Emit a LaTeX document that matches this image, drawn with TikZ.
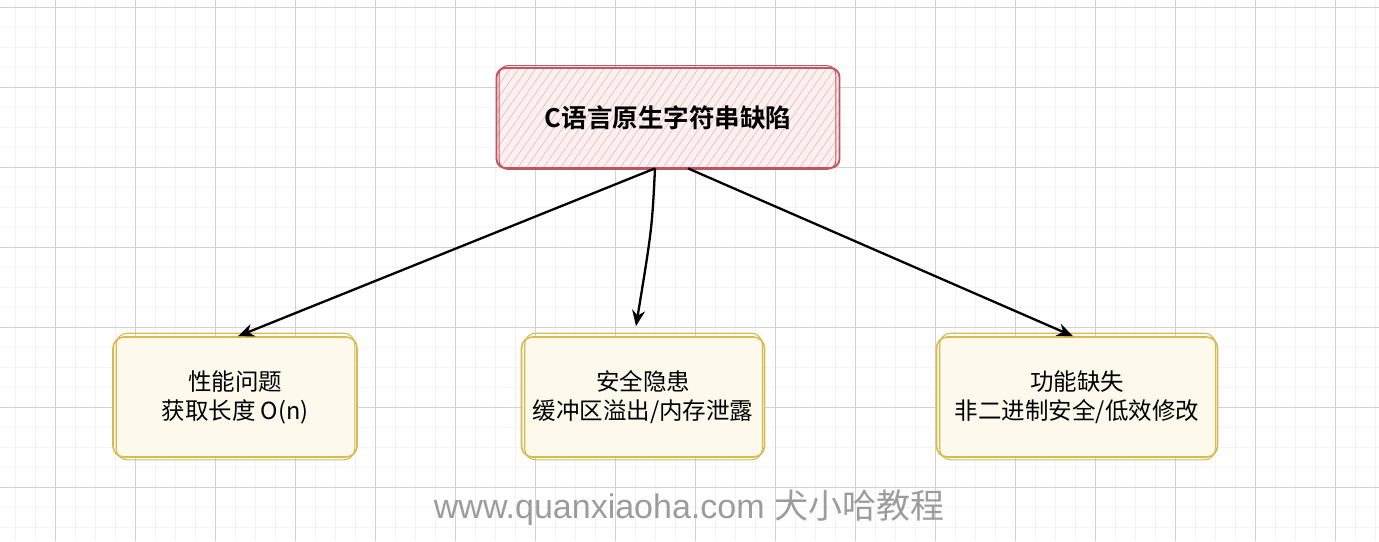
\documentclass[tikz,border=0pt]{standalone}
\usepackage{fontspec}
\setmainfont{Noto Sans CJK SC}
\newfontfamily\wmlatin{Liberation Sans}
\newfontfamily\cjkbold{Noto Sans CJK SC Bold}
\usetikzlibrary{arrows.meta,patterns.meta,calc}
\definecolor{gridmajor}{HTML}{D2D2D2}
\definecolor{gridminor}{HTML}{F3F3F3}
\definecolor{topstroke}{HTML}{C0555F}
\definecolor{topfill}{HTML}{FCF0F0}
\definecolor{tophatch}{HTML}{E9C2C2}
\definecolor{boxstroke}{HTML}{D6BB52}
\definecolor{boxfill}{HTML}{FDF9EC}
\definecolor{wmgrey}{HTML}{9C9C9C}
\tikzset{
  topbox/.style={draw=topstroke, line width=1.8pt, rounded corners=9pt,
    preaction={fill=topfill},
    pattern={Lines[angle=55,distance=7pt,line width=0.8pt]}, pattern color=tophatch,
    minimum width=343pt, minimum height=100pt, inner sep=0pt, font=\cjkbold\fontsize{25.5}{30}\selectfont},
  leafbox/.style={draw=boxstroke, line width=1.6pt, rounded corners=11pt, fill=boxfill,
    minimum height=120pt, inner sep=0pt, align=center, font=\fontsize{23.5}{29}\selectfont},
  sketch/.style={line width=1.1pt, rounded corners=11pt},
  conn/.style={line width=2.3pt, black, -{Stealth[length=16pt,width=13pt]}},
}
\begin{document}
\begin{tikzpicture}[x=1pt,y=-1pt]
\useasboundingbox (0,0) rectangle (1379,541);
\fill[white] (0,0) rectangle (1379,541);
% grid
\foreach \x in {15,35,...,1375} \draw[gridminor, line width=0.8pt] (\x,0) -- (\x,541);
\foreach \y in {7,27,...,541} \draw[gridminor, line width=0.8pt] (0,\y) -- (1379,\y);
\foreach \x in {55,135,...,1375} \draw[gridmajor, line width=0.8pt] (\x,0) -- (\x,541);
\foreach \y in {7,87,...,541} \draw[gridmajor, line width=0.8pt] (0,\y) -- (1379,\y);
% nodes
\node[topbox] (top) at (668,118) {C语言原生字符串缺陷};
\draw[topstroke, sketch, rounded corners=9pt] ($(top.north west)+(3,-2)$) rectangle ($(top.south east)+(-4,1)$);
\node[leafbox, minimum width=244pt] (l) at (235,397) {性能问题\\获取长度 O(n)};
\node[leafbox, minimum width=243pt] (m) at (643,397) {安全隐患\\缓冲区溢出/内存泄露};
\node[leafbox, minimum width=281pt] (r) at (1077,397) {功能缺失\\非二进制安全/低效修改};
\foreach \n in {l,m,r}
  \draw[boxstroke, sketch] ($(\n.north west)+(4,-3)$) rectangle ($(\n.south east)+(-3,2)$);
% connectors
\draw[conn] ([xshift=-13pt]top.south) -- ([xshift=3pt]l.north);
\draw[conn] ([xshift=-13pt]top.south) .. controls ([xshift=-16pt,yshift=-60pt]top.south) .. ([xshift=-7pt,yshift=10pt]m.north);
\draw[conn] ([xshift=20pt]top.south) -- ([xshift=-4pt]r.north);
% watermark
\node[wmgrey, inner sep=0pt] (wm) at (689,508) {\wmlatin\fontsize{34}{38}\selectfont www.quanxiaoha.com \fontspec{Noto Sans CJK SC}犬小哈教程};
\end{tikzpicture}
\end{document}
